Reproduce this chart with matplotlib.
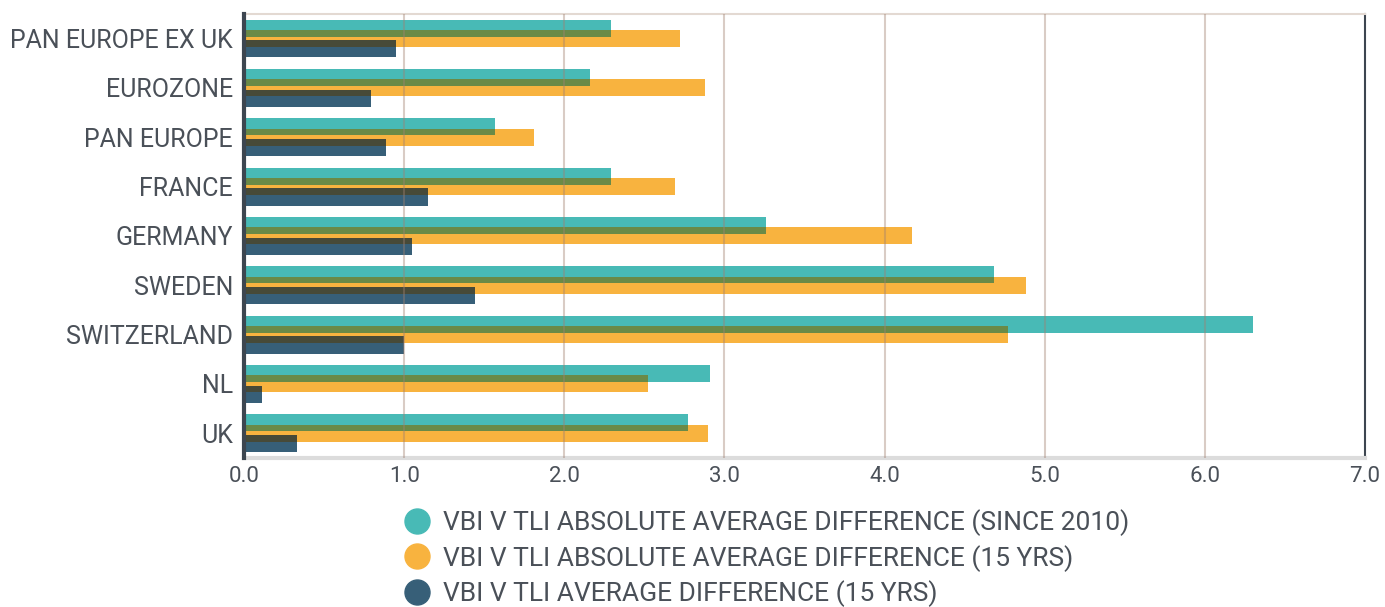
import matplotlib.pyplot as plt
import numpy as np
from matplotlib.lines import Line2D

plt.rcParams['font.family'] = ['Roboto', 'DejaVu Sans']

# Data
categories = ['PAN EUROPE EX UK', 'EUROZONE', 'PAN EUROPE', 'FRANCE', 'GERMANY',
              'SWEDEN', 'SWITZERLAND', 'NL', 'UK']
abs_since_2010 = [2.29, 2.16, 1.57, 2.29, 3.26, 4.68, 6.30, 2.91, 2.77]
abs_15yrs = [2.72, 2.88, 1.81, 2.69, 4.17, 4.88, 4.77, 2.52, 2.90]
avg_15yrs = [0.95, 0.79, 0.885, 1.15, 1.05, 1.44, 1.00, 0.11, 0.33]
labels = ['VBI V TLI ABSOLUTE AVERAGE DIFFERENCE (SINCE 2010)',
          'VBI V TLI ABSOLUTE AVERAGE DIFFERENCE (15 YRS)',
          'VBI V TLI AVERAGE DIFFERENCE (15 YRS)']

teal = '#48bab6'
orange = '#f8b33f'
navy = '#375f78'
olive = '#6a8a47'   # teal/orange overlap
murk = '#474a38'    # orange/navy overlap
text_col = '#4a5058'

fig = plt.figure(figsize=(13.85, 6.07), dpi=100)
ax = fig.add_axes([0.1762, 0.2455, 0.8094, 0.7315])

y = np.arange(len(categories))
h = 0.345
d = 0.21

a = np.array(abs_since_2010)
b = np.array(abs_15yrs)
c = np.array(avg_15yrs)

ax.barh(y - d, a, height=h, color=teal, zorder=2)
ax.barh(y, b, height=h, color=orange, zorder=2)
ax.barh(y + d, c, height=h, color=navy, zorder=2)
# overlapping strips look darker in the original
ax.barh(y - d / 2, np.minimum(a, b), height=h - d, color=olive, zorder=3)
ax.barh(y + d / 2, np.minimum(b, c), height=h - d, color=murk, zorder=3)

ax.set_xlim(0, 7)
ax.set_ylim(len(categories) - 0.5, -0.5)
ax.set_xticks(np.arange(0, 8))
ax.set_xticklabels([f'{v:.1f}' for v in range(8)])
ax.set_yticks(y)
ax.set_yticklabels(categories)
ax.tick_params(axis='both', length=0, colors=text_col)
ax.tick_params(axis='y', labelsize=18, pad=8)
ax.tick_params(axis='x', labelsize=16, pad=6)

for v in range(1, 7):
    ax.axvline(v, color='#a08070', alpha=0.4, lw=1.5, zorder=4)

ax.spines['left'].set_color('#3d4650')
ax.spines['left'].set_linewidth(3)
ax.spines['left'].set_zorder(5)
ax.spines['right'].set_color('#3d4650')
ax.spines['right'].set_linewidth(1.5)
ax.spines['top'].set_color('#e3d9d2')
ax.spines['top'].set_linewidth(1.5)
ax.spines['bottom'].set_color('#dcdcdc')
ax.spines['bottom'].set_linewidth(3)

handles = [Line2D([], [], marker='o', ls='', markersize=18, color=col)
           for col in (teal, orange, navy)]
leg = fig.legend(handles, labels, loc='upper left', bbox_to_anchor=(0.282, 0.161),
                 frameon=False, fontsize=19, handletextpad=0.0, labelspacing=0.33,
                 borderaxespad=0, borderpad=0)
for t in leg.get_texts():
    t.set_color(text_col)

fig.savefig('out.png', dpi=100)
